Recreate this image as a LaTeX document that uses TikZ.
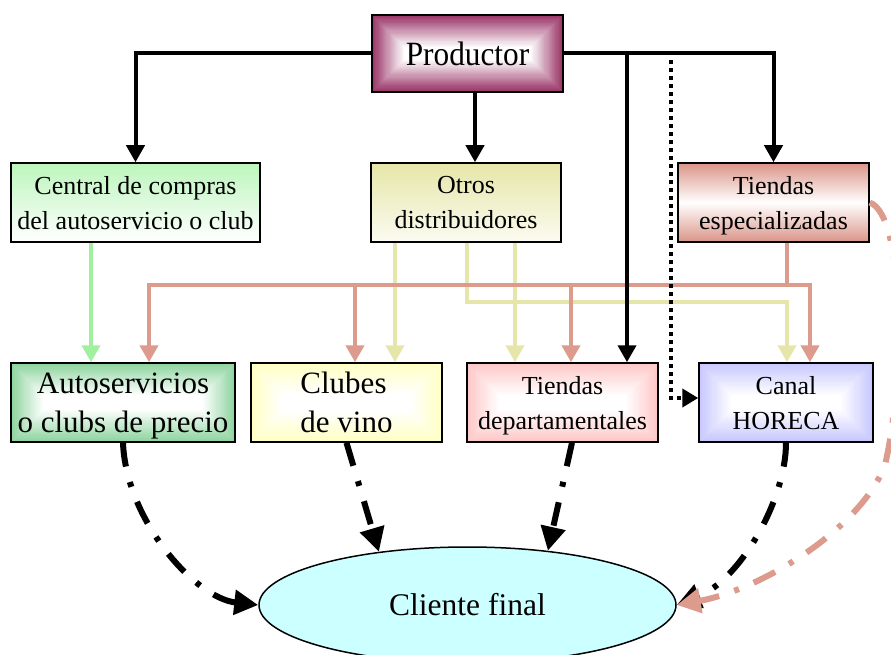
\documentclass[tikz,border=0pt]{standalone}
\usepackage{fontspec}
\setmainfont{Liberation Serif}
\newfontfamily\prodfont[FakeStretch=0.92]{Liberation Serif}
\usetikzlibrary{arrows.meta,shapes.geometric,calc}

\definecolor{prodcol}{RGB}{153,51,102}
\definecolor{autocol}{RGB}{140,212,158}
\definecolor{clubcol}{RGB}{255,255,196}
\definecolor{deptcol}{RGB}{255,198,198}
\definecolor{horcol}{RGB}{198,198,255}
\definecolor{centcol}{RGB}{188,245,188}
\definecolor{otrocol}{RGB}{230,230,168}
\definecolor{espcol}{RGB}{218,148,136}
\definecolor{clientcol}{RGB}{204,255,255}
\definecolor{greenline}{RGB}{160,240,160}
\definecolor{salmonline}{RGB}{220,155,140}
\definecolor{yellowline}{RGB}{230,230,170}

\tikzset{
  boxbase/.style={draw=black, line width=1.5pt, rectangle, inner sep=0pt, align=center, text depth=0pt},
  smalltext/.style={font=\fontsize{26}{35}\selectfont},
  bigtext/.style={font=\fontsize{31}{39}\selectfont},
  rgrad/.style={path picture={
    \foreach \k in {0,...,29}{
      \pgfmathsetmacro\pct{100-100*\k/29}
      \fill[#1!\pct!white]
        ([shift={(\k*1.1,\k*1.1)}]path picture bounding box.north west) rectangle
        ([shift={(-\k*1.1,-\k*1.1)}]path picture bounding box.south east);
    }}},
  blackarrow/.style={draw=black, line width=4pt, -{Triangle[width=18pt,length=17pt]}},
  colarrow/.style={draw=#1, line width=4.5pt, -{Triangle[width=18pt,length=17pt,fill=#1]}},
  dotarrow/.style={draw=black, line width=4pt, dash pattern=on 4pt off 4pt,
    -{Triangle[width=18pt,length=16pt]}},
  dashdot/.style={draw=#1, line width=6pt, dash pattern=on 24pt off 16pt on 5pt off 16pt,
    -{Triangle[width=24pt,length=24pt,fill=#1]}},
}

\begin{document}
\begin{tikzpicture}[x=1pt,y=-1pt]
\useasboundingbox (0,0) rectangle (891,655);
\clip (0,0) rectangle (891,655);

% boxes
\node[boxbase, font=\prodfont\fontsize{34}{40}\selectfont, rgrad=prodcol, minimum width=191, minimum height=77] (prod) at (467.5,53.5) {Productor};

\node[boxbase, smalltext, top color=centcol, bottom color=white, minimum width=249, minimum height=79] (central) at (135.5,202.5) {Central de compras\\del autoservicio o club};
\node[boxbase, smalltext, top color=otrocol, bottom color=otrocol!15!white, minimum width=190, minimum height=79] (otros) at (466,202.5) {Otros\\distribuidores};
\node[boxbase, smalltext, top color=espcol, bottom color=espcol, middle color=white, minimum width=191, minimum height=79] (tesp) at (773.5,202.5) {Tiendas\\especializadas};

\node[boxbase, bigtext, rgrad=autocol, minimum width=224, minimum height=79] (auto) at (123,402.5) {Autoservicios\\o clubs de precio};
\node[boxbase, bigtext, rgrad=clubcol, minimum width=191, minimum height=79, align=left] (clubes) at (346.5,402.5) {Clubes\\de vino};
\node[boxbase, smalltext, rgrad=deptcol, minimum width=191, minimum height=79] (tdept) at (562.5,402.5) {Tiendas\\departamentales};
\node[boxbase, smalltext, rgrad=horcol, minimum width=174, minimum height=79] (horeca) at (786,402.5) {Canal\\HORECA};

\node[draw=black, line width=1.5pt, ellipse, fill=clientcol, minimum width=417, minimum height=116, inner sep=0pt,
  font=\fontsize{31.5}{36}\selectfont] (cliente) at (467.5,605) {Cliente final};

% column and bus positions
\coordinate (xg) at (91,0);
\coordinate (xs1) at (149,0);
\coordinate (xs2) at (355,0);
\coordinate (xy1) at (395,0);
\coordinate (xy2) at (467,0);
\coordinate (xy3) at (515,0);
\coordinate (xs3) at (571,0);
\coordinate (xb) at (627,0);
\coordinate (xp) at (475,0);
\coordinate (xts) at (787,0);
\coordinate (xs4) at (810,0);
\coordinate (sbus) at (0,285);
\coordinate (ybus) at (0,302);
\coordinate (dtop) at (671,60);
\coordinate (dturn) at (671,398);

% green link
\draw[colarrow=greenline] (central.south -| xg) -- (auto.north -| xg);

% yellow links from Otros distribuidores
\draw[colarrow=yellowline] (otros.south -| xy1) -- (clubes.north -| xy1);
\draw[colarrow=yellowline] (otros.south -| xy3) -- (tdept.north -| xy3);
\draw[colarrow=yellowline] (otros.south -| xy2) -- (xy2 |- ybus) -- (xts |- ybus) -- (horeca.north -| xts);

% salmon links from Tiendas especializadas
\draw[colarrow=salmonline] (tesp.south -| xts) -- (xts |- sbus) -- (xs4 |- sbus) -- (horeca.north -| xs4);
\draw[colarrow=salmonline] (xts |- sbus) -- (xs1 |- sbus) -- (auto.north -| xs1);
\draw[colarrow=salmonline] (xs2 |- sbus) -- (clubes.north -| xs2);
\draw[colarrow=salmonline] (xs3 |- sbus) -- (tdept.north -| xs3);

% links from Productor
\draw[blackarrow] (prod.west) -- (prod.west -| central.north) -- (central.north);
\draw[blackarrow] (prod.south -| xp) -- (otros.north -| xp);
\draw[blackarrow] (prod.east) -- (prod.east -| tesp.north) -- (tesp.north);
\draw[blackarrow] (xb |- prod.east) -- (tdept.north -| xb);
\draw[dotarrow] (dtop) -- (dturn) -- (dturn -| horeca.west);

% flows to the final customer
\draw[dashdot=black] (auto.south) .. controls (126,520) and (195,598) .. (cliente.west);
\draw[dashdot=black] (clubes.south) -- (cliente.149);
\draw[dashdot=black] ([xshift=9.5]tdept.south) -- (cliente.34);
\draw[dashdot=black] (horeca.south) .. controls (786,500) and (740,580) .. (cliente.east);
\draw[dashdot=salmonline] (tesp.east) .. controls (905,215) and (905,380) .. (885,465)
  .. controls (860,530) and (760,590) .. (cliente.east);
\end{tikzpicture}
\end{document}
